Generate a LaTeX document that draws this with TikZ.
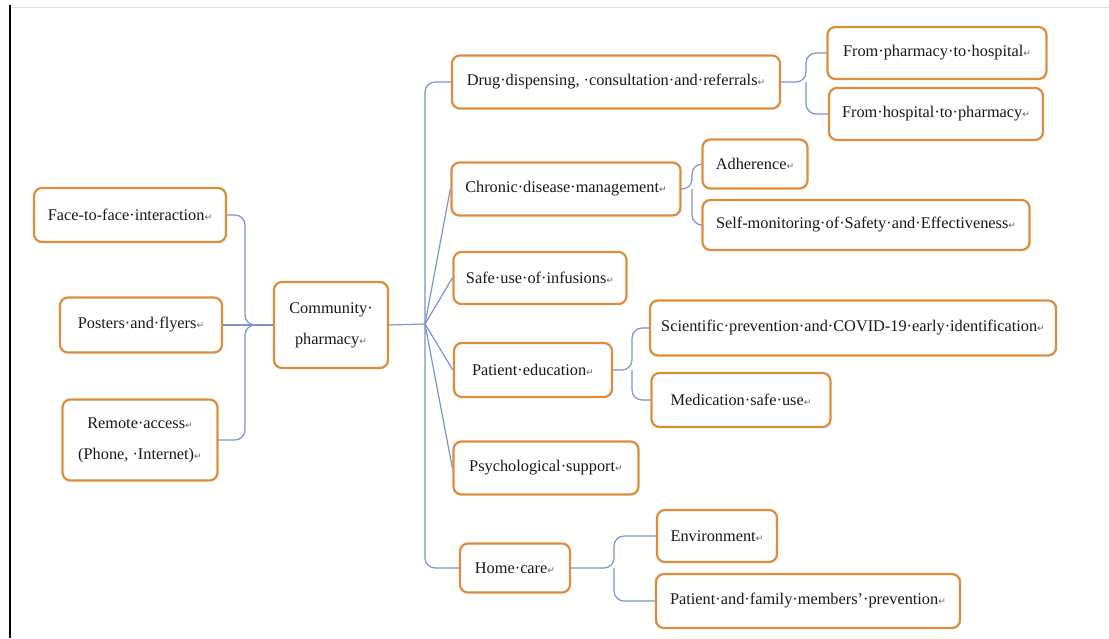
\documentclass[tikz,border=0pt]{standalone}
\usepackage{fontspec}
\setmainfont{Liberation Serif}
\newfontfamily\pfeilfont{DejaVu Sans}

% Absatzmarke wie in Word
\newcommand{\absatz}{{\pfeilfont\fontsize{6.5}{6.5}\selectfont\textcolor{black!60}{↵}}}

\begin{document}
\begin{tikzpicture}[x=0.025cm, y=-0.025cm]

    % Farben
    \definecolor{Kasten_orange}{RGB}{221,141,62}
    \definecolor{Linie_blau}{RGB}{126,146,204}

    \tikzset{
        kasten/.style={rounded corners=0.2cm, draw=Kasten_orange, line width=1.6pt, fill=white,
                       align=center, inner sep=0pt, text=black!90, font=\fontsize{11.6}{22}\selectfont},
        linie/.style={draw=Linie_blau, line width=0.85pt, rounded corners=0.25cm}
    }

    % Rahmen
    \useasboundingbox (0,0) rectangle (1109,638);
    \draw[black!12, line width=0.6pt] (10,7) -- (1109,7);
    \draw[line width=2pt] (10,5) -- (10,638);

    % Linke Kästen (Kanäle)
    \node[kasten, minimum width=4.8cm, minimum height=1.35cm] (face) at (130,215) {Face-to-face·interaction\absatz};
    \node[kasten, minimum width=4.05cm, minimum height=1.375cm] (posters) at (141,325) {Posters·and·flyers\absatz};
    \node[kasten, minimum width=3.875cm, minimum height=2.025cm] (remote) at (140,440) {Remote·access\absatz\\(Phone, ·Internet)\absatz};

    % Mitte
    \node[kasten, minimum width=2.85cm, minimum height=2.15cm] (comm) at (331,325) {Community·\\pharmacy\absatz};

    % Rechte Kästen (Aufgaben)
    \node[kasten, minimum width=8.2cm, minimum height=1.325cm] (drug) at (616,82) {Drug·dispensing, ·consultation·and·referrals\absatz};
    \node[kasten, minimum width=5.725cm, minimum height=1.325cm] (chronic) at (566,189) {Chronic·disease·management\absatz};
    \node[kasten, minimum width=4.325cm, minimum height=1.3cm] (infus) at (540,278) {Safe·use·of·infusions\absatz};
    \node[kasten, minimum width=3.95cm, minimum height=1.35cm] (pated) at (533,370) {Patient·education\absatz};
    \node[kasten, minimum width=4.625cm, minimum height=1.325cm] (psych) at (546,468) {Psychological·support\absatz};
    \node[kasten, minimum width=2.75cm, minimum height=1.225cm] (home) at (515,568) {Home·care\absatz};

    % Unterpunkte
    \node[kasten, minimum width=5.475cm, minimum height=1.3cm] (fph) at (937,53) {From·pharmacy·to·hospital\absatz};
    \node[kasten, minimum width=5.35cm, minimum height=1.3cm] (fhp) at (936,114) {From·hospital·to·pharmacy\absatz};
    \node[kasten, minimum width=2.625cm, minimum height=1.225cm] (adher) at (755,164) {Adherence\absatz};
    \node[kasten, minimum width=8.175cm, minimum height=1.25cm] (selfmon) at (866,225) {Self-monitoring·of·Safety·and·Effectiveness\absatz};
    \node[kasten, minimum width=10.15cm, minimum height=1.375cm] (sci) at (853,328) {Scientific·prevention·and·COVID-19·early·identification\absatz};
    \node[kasten, minimum width=4.475cm, minimum height=1.35cm] (medsafe) at (741,400) {Medication·safe·use\absatz};
    \node[kasten, minimum width=3cm, minimum height=1.3cm] (env) at (717,536) {Environment\absatz};
    \node[kasten, minimum width=7.6cm, minimum height=1.35cm] (family) at (808,601) {Patient·and·family·members’·prevention\absatz};

    % Knotenpunkte
    \coordinate (hubL) at (245,325);
    \coordinate (hubR) at (425,324);
    \coordinate (hubD) at (806,82);
    \coordinate (hubC) at (692,189);
    \coordinate (hubP) at (632,370);
    \coordinate (hubH) at (614,568);

    % Verbindungen links -> Mitte
    \draw[linie] (face.east) -| (hubL) -- (comm.west);
    \draw[linie] (posters.east) -- (comm.west);
    \draw[linie] (remote.east) -| (hubL) -- (comm.west);

    % Mitte -> rechts
    \draw[linie] (comm.east) -- (hubR);
    \draw[linie] (hubR) |- (drug.west);
    \draw[linie] (hubR) |- (home.west);
    \foreach \n in {chronic,infus,pated,psych} {
        \draw[linie] (hubR) -- (\n.west);
    }

    % Unterverzweigungen
    \draw[linie] (drug.east) -- (hubD) |- (fph.west);
    \draw[linie] (hubD) |- (fhp.west);
    \draw[linie] (chronic.east) -- (hubC) |- (adher.west);
    \draw[linie] (hubC) |- (selfmon.west);
    \draw[linie] (pated.east) -- (hubP) |- (sci.west);
    \draw[linie] (hubP) |- (medsafe.west);
    \draw[linie] (home.east) -- (hubH) |- (env.west);
    \draw[linie] (hubH) |- (family.west);

\end{tikzpicture}
\end{document}
